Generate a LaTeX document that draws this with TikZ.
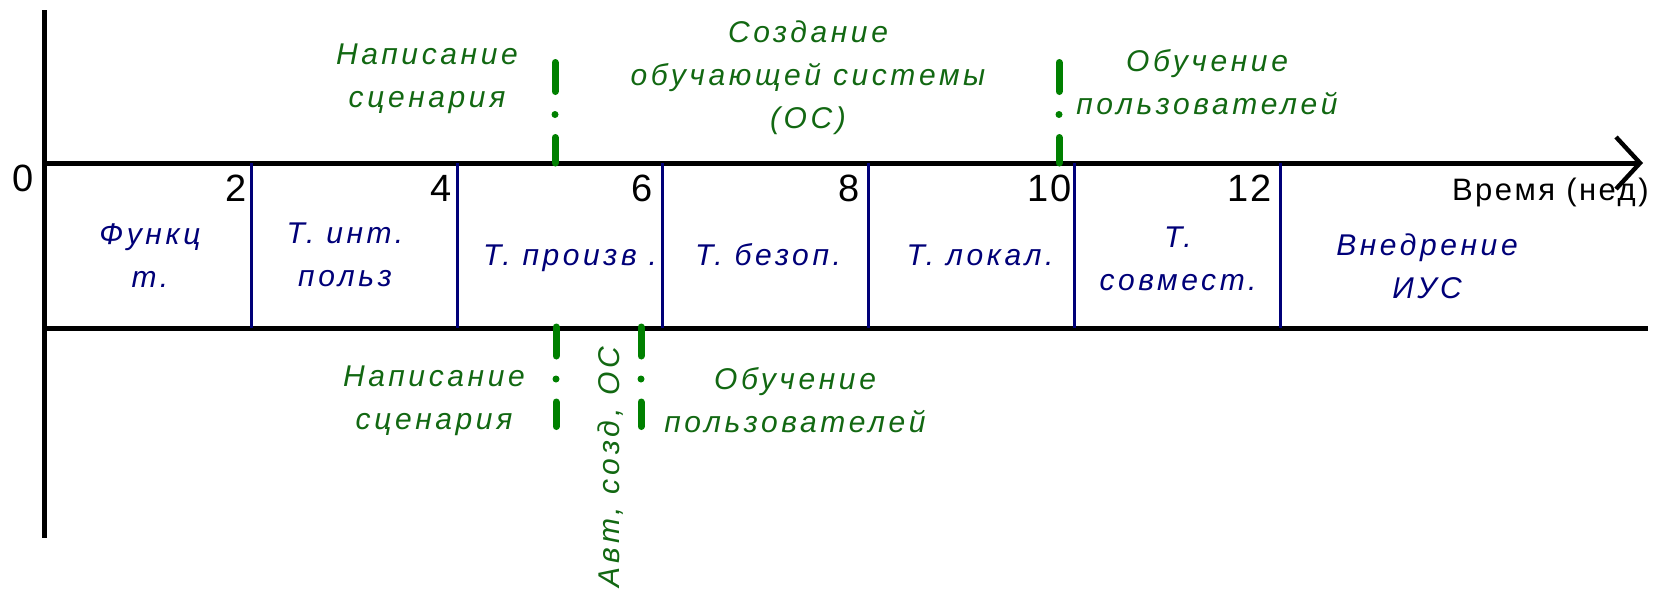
\documentclass[tikz,border=0pt]{standalone}
\usepackage{fontspec}
\setmainfont{Liberation Sans}
\newfontfamily\lblfont[LetterSpace=12]{Liberation Sans}
\newfontfamily\numfont[LetterSpace=5]{Liberation Sans}
\newfontfamily\timefont[LetterSpace=8]{Liberation Sans}
\newfontfamily\rotfont[LetterSpace=13.5]{Liberation Sans}
\usetikzlibrary{arrows.meta}
\definecolor{navyc}{RGB}{0,0,120}
\definecolor{greentxt}{RGB}{18,104,18}
\definecolor{greenln}{RGB}{0,128,0}
\begin{document}
\begin{tikzpicture}[x=0.5pt,y=-0.5pt,
  axis/.style={line width=2.5pt,black},
  divider/.style={line width=1.5pt,navyc},
  marker/.style={line width=3.5pt,greenln,line cap=round,
    dash pattern=on 14.5pt off 11.5pt on 0pt off 11.5pt},
  lbl/.style={font=\lblfont\itshape\fontsize{15pt}{21.5pt}\selectfont,align=center,inner sep=0pt},
  navylbl/.style={lbl,text=navyc},
  greenlbl/.style={lbl,text=greentxt},
  rotlbl/.style={font=\rotfont\itshape\fontsize{15pt}{21.5pt}\selectfont,inner sep=0pt,text=greentxt,rotate=90},
  num/.style={font=\numfont\fontsize{19pt}{22pt}\selectfont,inner sep=0pt,anchor=base east},
  timelbl/.style={font=\timefont\fontsize{15.5pt}{18pt}\selectfont,inner sep=0pt,anchor=base east}]
\useasboundingbox (0,0) rectangle (1661,590);
% axes
\coordinate (axtop) at (44,10);
\coordinate (axbot) at (44,538);
\coordinate (O) at (44,163);
\coordinate (tip) at (1643,163);
\coordinate (bl) at (44,328);
\coordinate (br) at (1648,328);
\draw[axis] (axtop) -- (axbot);
\draw[axis,-{Straight Barb[length=12pt,width=26pt,line width=2.2pt]}] (O) -- (tip);
\draw[axis] (bl) -- (br);
% week dividers
\foreach \i/\x in {1/251,2/457,3/662,4/868,5/1074,6/1280}{
  \coordinate (dt\i) at (\x,163);
  \coordinate (db\i) at (\x,328);
  \draw[divider] (dt\i) -- (db\i);
}
% numbers
\node[num] (n0) at (34,191) {0};
\node[num] (n2) at (247,201) {2};
\node[num] (n4) at (452,201) {4};
\node[num] (n6) at (653,201) {6};
\node[num] (n8) at (860,201) {8};
\node[num] (n10) at (1072,201) {10};
\node[num] (n12) at (1272,201) {12};
\node[timelbl] (time) at (1649,200) {Время (нед)};
% test labels
\node[navylbl] (f1) at (150,256) {Функц\\т.};
\node[navylbl] (f2) at (345,255) {Т. инт.\\польз};
\node[navylbl,anchor=base] (f3) at (570,265) {Т. произв .};
\node[navylbl,anchor=base] (f4) at (768,265) {Т. безоп.};
\node[navylbl,anchor=base] (f5) at (980,265) {Т. локал.};
\node[navylbl] (f6) at (1178,259) {Т.\\совмест.};
\node[navylbl] (f7) at (1427,266) {Внедрение\\ИУС};
% green markers
\coordinate (m1a) at (555,62.5);
\coordinate (m1b) at (555,163);
\coordinate (m2a) at (1059,62.5);
\coordinate (m2b) at (1059,163);
\coordinate (m3a) at (556,327);
\coordinate (m3b) at (556,426.5);
\coordinate (m4a) at (641,327);
\coordinate (m4b) at (641,426.5);
\draw[marker] (m1a) -- (m1b);
\draw[marker] (m2a) -- (m2b);
\draw[marker] (m3a) -- (m3b);
\draw[marker] (m4a) -- (m4b);
% green labels
\node[greenlbl] (g1) at (427,79) {Написание\\сценария};
\node[greenlbl] (g2) at (808,78) {Создание\\обучающей системы\\(ОС)};
\node[greenlbl] (g3) at (1207,82) {Обучение\\пользователей};
\node[greenlbl] (g4) at (434,401) {Написание\\сценария};
\node[greenlbl] (g5) at (795,400) {Обучение\\пользователей};
\node[rotlbl] (g6) at (611,467) {Авт, созд, ОС};
\end{tikzpicture}
\end{document}
